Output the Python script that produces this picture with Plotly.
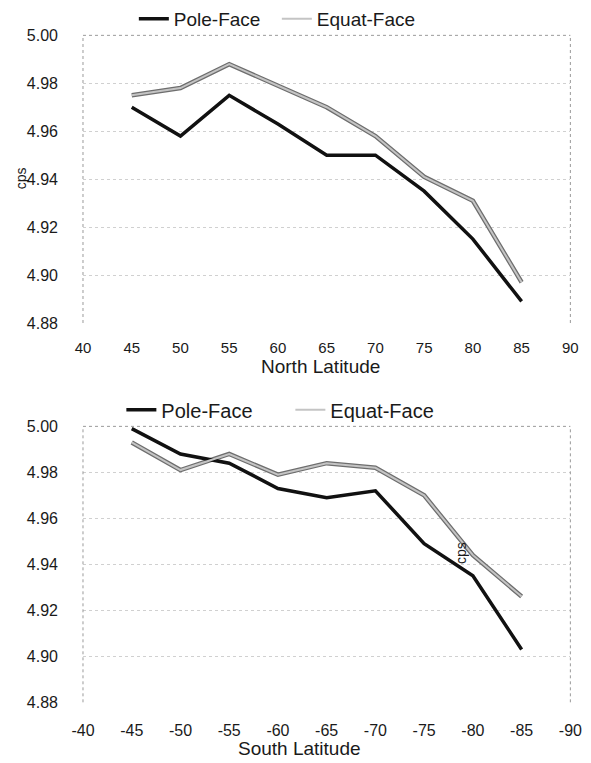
import plotly.graph_objects as go

# ---- data ----
north_lat = [45, 50, 55, 60, 65, 70, 75, 80, 85]
north_pole = [4.970, 4.958, 4.975, 4.963, 4.950, 4.950, 4.935, 4.915, 4.889]
north_equat = [4.975, 4.978, 4.988, 4.979, 4.970, 4.958, 4.941, 4.931, 4.897]

south_lat = [-45, -50, -55, -60, -65, -70, -75, -80, -85]
south_pole = [4.999, 4.988, 4.984, 4.973, 4.969, 4.972, 4.949, 4.935, 4.903]
south_equat = [4.993, 4.981, 4.988, 4.979, 4.984, 4.982, 4.970, 4.944, 4.926]

y_ticks = [4.88, 4.90, 4.92, 4.94, 4.96, 4.98, 5.00]
north_ticks = [40, 45, 50, 55, 60, 65, 70, 75, 80, 85, 90]
south_ticks = [-40, -45, -50, -55, -60, -65, -70, -75, -80, -85, -90]
south_tick_labels = ["-40", "-45", "-50", "-55", "-60", "-65", "-70", "-75", "-80", "-85", "-90"]

FONT = "Liberation Sans, Arial, sans-serif"
TXT = "#1a1a1a"
W, H = 591, 763


def px(x):
    return x / W


def py(y):
    return 1 - y / H


fig = go.Figure()


def add_series(x, pole, equat, xa, ya, legend):
    fig.add_trace(go.Scatter(x=x, y=equat, mode="lines", xaxis=xa, yaxis=ya,
                             line=dict(color="#6e6e6e", width=4.5),
                             showlegend=False, hoverinfo="skip"))
    fig.add_trace(go.Scatter(x=x, y=pole, mode="lines", xaxis=xa, yaxis=ya,
                             name="Pole-Face", legend=legend,
                             line=dict(color="#111111", width=3.5)))
    fig.add_trace(go.Scatter(x=x, y=equat, mode="lines", xaxis=xa, yaxis=ya,
                             name="Equat-Face", legend=legend,
                             line=dict(color="#c4c4c4", width=2)))


add_series(north_lat, north_pole, north_equat, "x", "y", "legend")
add_series(south_lat, south_pole, south_equat, "x2", "y2", "legend2")

xdom = [px(74), px(582)]
ydom_top = [py(321), py(26)]
ydom_bot = [py(710), py(427)]

yax = dict(range=[4.88, 5.00], tickvals=y_ticks, tickformat=".2f",
           showgrid=True, gridcolor="#d0d0d0", griddash="dot", gridwidth=1,
           zeroline=False, showline=False, ticks="",
           tickfont=dict(family=FONT, size=16, color=TXT), ticklabelstandoff=24)
xax = dict(showgrid=False, zeroline=False, showline=False, ticks="",
           ticklabeloverflow="allow")

fig.update_layout(
    width=W, height=H,
    margin=dict(l=0, r=0, t=0, b=0),
    paper_bgcolor="white", plot_bgcolor="white",
    xaxis=dict(xax, domain=xdom, range=[40, 90], tickvals=north_ticks,
               anchor="y", ticklabelstandoff=14,
               tickfont=dict(family=FONT, size=15, color=TXT)),
    yaxis=dict(yax, domain=ydom_top, anchor="x"),
    xaxis2=dict(xax, domain=xdom, range=[-40, -90], tickvals=south_ticks,
                ticktext=south_tick_labels, anchor="y2", ticklabelstandoff=17,
                tickfont=dict(family=FONT, size=16, color=TXT)),
    yaxis2=dict(yax, domain=ydom_bot, anchor="x2"),
    legend=dict(orientation="h", x=px(127), y=py(9), xanchor="left",
                yanchor="middle", font=dict(family=FONT, size=19, color=TXT),
                bgcolor="rgba(0,0,0,0)", itemwidth=30, entrywidth=98),
    legend2=dict(orientation="h", x=px(114), y=py(410), xanchor="left",
                 yanchor="middle", font=dict(family=FONT, size=20, color=TXT),
                 bgcolor="rgba(0,0,0,0)", itemwidth=30, entrywidth=124),
    showlegend=True,
)

# dotted plot borders (left axis, right, top)
for xr, yr in (("x domain", "y domain"), ("x2 domain", "y2 domain")):
    for x0, y0, x1, y1 in ((0, 0, 0, 1), (1, 0, 1, 1), (0, 1, 1, 1)):
        fig.add_shape(type="line", xref=xr, yref=yr, x0=x0, y0=y0, x1=x1, y1=y1,
                      line=dict(color="#9a9a9a", width=1, dash="dot"))

# axis titles
fig.add_annotation(text="North Latitude", xref="paper", yref="paper",
                   x=px(322), y=py(366), xanchor="center", yanchor="middle",
                   showarrow=False, font=dict(family=FONT, size=19, color=TXT))
fig.add_annotation(text="South Latitude", xref="paper", yref="paper",
                   x=px(300), y=py(757), xanchor="center", yanchor="middle",
                   showarrow=False, font=dict(family=FONT, size=19, color=TXT))
fig.add_annotation(text="cps", xref="paper", yref="paper",
                   x=px(9), y=py(173), xanchor="center", yanchor="middle",
                   showarrow=False, textangle=-90,
                   font=dict(family=FONT, size=14, color=TXT))
fig.add_annotation(text="cps", xref="x2", yref="y2",
                   x=-78.8, y=4.945, xanchor="center", yanchor="middle",
                   showarrow=False, textangle=-90,
                   font=dict(family=FONT, size=14, color=TXT))

fig.write_html("out.html",
               config={"displayModeBar": False},
               post_script="document.body.style.margin='0px';document.body.style.overflow='hidden';")
